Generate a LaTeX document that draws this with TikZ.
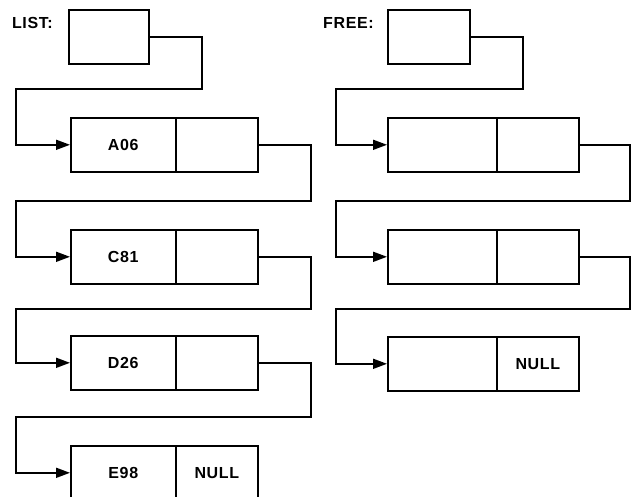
\documentclass[tikz,border=0pt]{standalone}
\usepackage{fontspec}
\setmainfont{Liberation Sans}
\newfontfamily\lblfont[LetterSpace=4]{Liberation Sans}
\usetikzlibrary{arrows.meta}
\tikzset{
  cell/.style={draw, line width=1.6pt, minimum height=54pt, inner sep=0pt, anchor=north west,
    font=\lblfont\bfseries\fontsize{16}{16}\selectfont},
  lbl/.style={inner sep=0pt, anchor=base east, font=\lblfont\bfseries\fontsize{16}{16}\selectfont},
  ptr/.style={line width=1.6pt, -{Triangle[length=14pt,width=10pt]}}
}
\begin{document}
\begin{tikzpicture}[x=1pt,y=-1pt]
\useasboundingbox (0,0) rectangle (636,496);
\fill[white] (0,0) rectangle (636,496);
\clip (0,0) rectangle (636,496);
% LIST side
\node[lbl] (listlbl) at (53,28) {LIST:};
\node[cell, minimum width=80pt] (lh) at (68,9) {};
\node[cell, minimum width=105pt] (a1) at (70,117) {A06};
\node[cell, minimum width=82pt] (a2) at (175,117) {};
\node[cell, minimum width=105pt] (c1) at (70,229) {C81};
\node[cell, minimum width=82pt] (c2) at (175,229) {};
\node[cell, minimum width=105pt] (d1) at (70,335) {D26};
\node[cell, minimum width=82pt] (d2) at (175,335) {};
\node[cell, minimum width=105pt] (e1) at (70,445) {E98};
\node[cell, minimum width=82pt] (e2) at (175,445) {NULL};
\draw[ptr] (lh.east) -| (202,89) -- (16,89) |- (a1.west);
\draw[ptr] (a2.east) -| (311,201) -- (16,201) |- (c1.west);
\draw[ptr] (c2.east) -| (311,309) -- (16,309) |- (d1.west);
\draw[ptr] (d2.east) -| (311,417) -- (16,417) |- (e1.west);
% FREE side
\node[lbl] (freelbl) at (374,28) {FREE:};
\node[cell, minimum width=82pt] (fh) at (387,9) {};
\node[cell, minimum width=109pt] (f11) at (387,117) {};
\node[cell, minimum width=82pt] (f12) at (496,117) {};
\node[cell, minimum width=109pt] (f21) at (387,229) {};
\node[cell, minimum width=82pt] (f22) at (496,229) {};
\node[cell, minimum width=109pt] (f31) at (387,336) {};
\node[cell, minimum width=82pt] (f32) at (496,336) {NULL};
\draw[ptr] (fh.east) -| (523,89) -- (336,89) |- (f11.west);
\draw[ptr] (f12.east) -| (630,201) -- (336,201) |- (f21.west);
\draw[ptr] (f22.east) -| (630,309) -- (336,309) |- (f31.west);
\end{tikzpicture}
\end{document}
